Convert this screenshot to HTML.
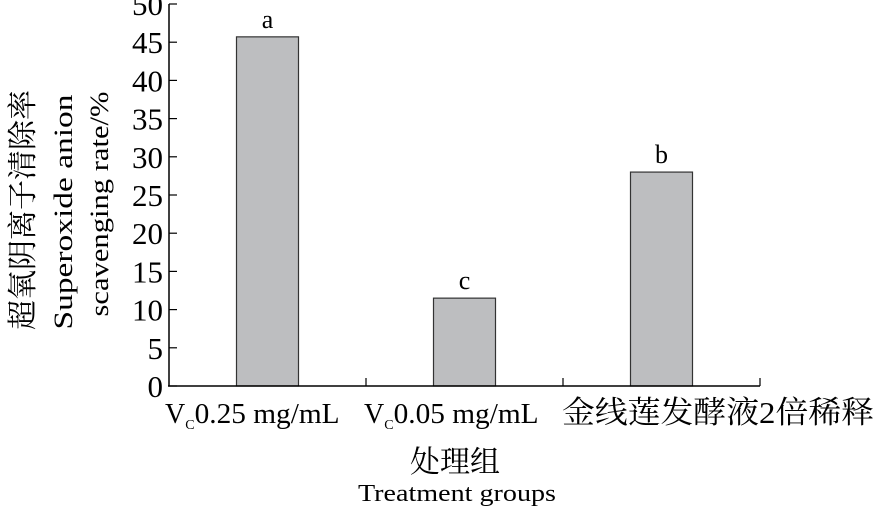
<!DOCTYPE html>
<html><head><meta charset="utf-8"><style>
body{margin:0;background:#fff;}
svg{display:block;font-family:"Liberation Serif","Noto Serif CJK SC",serif;}
</style></head><body>
<svg id="chart" width="876" height="509" viewBox="0 0 876 509" xmlns="http://www.w3.org/2000/svg">
<g id="yticks"></g>
<g id="bars"></g>
<line x1="169" y1="4" x2="169" y2="386.5" stroke="#000" stroke-width="1.5"/>
<line x1="168" y1="386" x2="760" y2="386" stroke="#000" stroke-width="1.5"/>
<g id="xlabels" font-size="28">
<text x="165" y="423">V<tspan font-size="14" dy="6">C</tspan><tspan dy="-6" textLength="145" lengthAdjust="spacingAndGlyphs">0.25 mg/mL</tspan></text>
<text x="364" y="423">V<tspan font-size="14" dy="6">C</tspan><tspan dy="-6" textLength="145" lengthAdjust="spacingAndGlyphs">0.05 mg/mL</tspan></text>
<text x="562" y="423" font-size="31" textLength="312" lengthAdjust="spacingAndGlyphs">金线莲发酵液2倍稀释</text>
</g>
<text x="455" y="472" font-size="30" text-anchor="middle">处理组</text>
<text x="457" y="501" font-size="24" text-anchor="middle" textLength="198" lengthAdjust="spacingAndGlyphs">Treatment groups</text>
<text transform="translate(33,210) rotate(-90)" font-size="30" text-anchor="middle">超氧阴离子清除率</text>
<text transform="translate(72,212) rotate(-90)" font-size="26" text-anchor="middle" textLength="235" lengthAdjust="spacingAndGlyphs">Superoxide anion</text>
<text transform="translate(108,204) rotate(-90)" font-size="26" text-anchor="middle" textLength="225" lengthAdjust="spacingAndGlyphs">scavenging rate/%</text>
</svg>
<script>
const categories=["VC0.25 mg/mL","VC0.05 mg/mL","金线莲发酵液2倍稀释"];
const values=[45.7,11.5,28.0];
const letters=["a","c","b"];
const yTicks=[0,5,10,15,20,25,30,35,40,45,50];
const NS="http://www.w3.org/2000/svg";
const x0=169,x1=760,y0=386,yTop=4;
const yS=v=>y0-(v/50)*(y0-yTop);
const band=(x1-x0)/categories.length;
const xC=i=>x0+band*(i+0.5);
const yt=document.getElementById('yticks');
yTicks.forEach(t=>{
 const l=document.createElementNS(NS,'line');
 
 
 l.setAttribute('x1',x0);l.setAttribute('x2',x0+8);l.setAttribute('y1',yS(t));l.setAttribute('y2',yS(t));
 l.setAttribute('stroke','#000');l.setAttribute('stroke-width','1.2');yt.appendChild(l);
 const tx=document.createElementNS(NS,'text');
 
 
 tx.setAttribute('x',163);tx.setAttribute('y',yS(t)+11);tx.setAttribute('text-anchor','end');tx.setAttribute('font-size','31');
 tx.textContent=t;yt.appendChild(tx);
});
const bg=document.getElementById('bars');
for(let i=1;i<=categories.length;i++){
 const l=document.createElementNS(NS,'line');
 
 
 const x=x0+band*i;
 l.setAttribute('x1',x);l.setAttribute('x2',x);l.setAttribute('y1',y0);l.setAttribute('y2',y0-8);
 l.setAttribute('stroke','#000');l.setAttribute('stroke-width','1.2');bg.appendChild(l);
}
values.forEach((v,i)=>{
 const w=62,cx=xC(i);
 const r=document.createElementNS(NS,'rect');
 
 
 r.setAttribute('x',cx-w/2);r.setAttribute('y',yS(v));r.setAttribute('width',w);r.setAttribute('height',y0-yS(v));
 r.setAttribute('fill','#bdbec0');r.setAttribute('stroke','#333');r.setAttribute('stroke-width','1.2');bg.appendChild(r);
 const t=document.createElementNS(NS,'text');
 
 
 t.setAttribute('x',cx);t.setAttribute('y',yS(v)-9);t.setAttribute('text-anchor','middle');t.setAttribute('font-size','26');
 t.textContent=letters[i];bg.appendChild(t);
});
</script>
</body></html>
